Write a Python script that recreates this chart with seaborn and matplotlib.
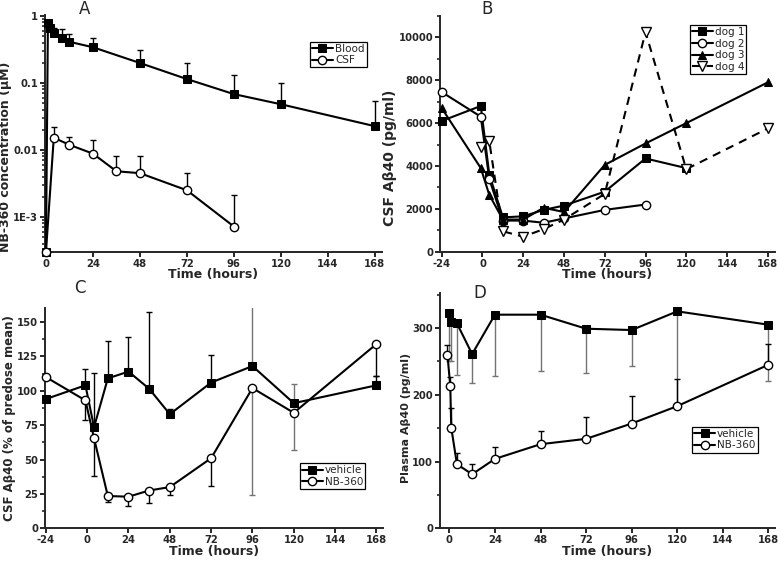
import numpy as np
import pandas as pd
import matplotlib
matplotlib.use("Agg")
import matplotlib.pyplot as plt
from matplotlib.ticker import MultipleLocator, FixedLocator, LogLocator, NullFormatter
import seaborn as sns

# ---------------- data ----------------
# Panel A: NB-360 concentration (uM)
blood_t = [0, 1, 2, 4, 8, 12, 24, 48, 72, 96, 120, 168]
blood_v = [3.0e-4, 0.78, 0.65, 0.56, 0.46, 0.41, 0.34, 0.198, 0.114, 0.068, 0.048, 0.0226]
blood_up = [np.nan, np.nan, np.nan, 0.66, 0.63, 0.53, 0.47, 0.31, 0.196, 0.131, 0.098, 0.053]
csf_t = [0, 4, 12, 24, 36, 48, 72, 96]
csf_v = [3.0e-4, 0.0152, 0.0119, 0.0088, 0.0048, 0.0045, 0.0025, 0.00072]
csf_up = [np.nan, 0.0218, 0.0157, 0.0139, 0.0082, 0.0080, 0.0046, 0.0021]

# Panel B: individual dogs, CSF Abeta40 (pg/ml)
dog_t = [-24, -1, 4, 12, 24, 36, 48, 72, 96, 120, 168]
dog1 = [6100, 6800, 3600, 1600, 1650, 1950, 2150, 2800, 4350, 3900, np.nan]
dog2 = [7450, 6300, 3400, 1450, 1450, 1350, 1550, 1950, 2200, np.nan, np.nan]
dog3 = [6700, 3900, 2650, 1500, 1500, 2050, 1850, 4050, 5050, 6000, 7900]
dog4 = [np.nan, 4900, 5150, 950, 700, 1050, 1500, 2700, 10250, 3850, 5750]

# Panel C: CSF Abeta40 (% of predose mean)
c_t = [-24, -1, 4, 12, 24, 36, 48, 72, 96, 120, 168]
c_vehicle = [94, 104, 73.5, 109, 114, 101.5, 83, 106, 118, 91, 104]
c_vehicle_up = [np.nan, 116, 113, 136, 139, 157, 87, 126, 163, 105, 111]
c_nb = [110, 93, 65.5, 23.5, 23, 27.5, 30, 51, 102, 84, 134]
c_nb_low = [np.nan, 79, 38, 19, 16.5, 18.5, 24.5, 31, 24, 57, 111]

# Panel D: Plasma Abeta40 (pg/ml)
d_veh_t = [0, 1, 4, 12, 24, 48, 72, 96, 120, 168]
d_vehicle = [322, 309, 307, 261, 320, 320, 299, 297, 325, 305]
d_vehicle_low = [250, 250, 230, 217, 228, 235, 233, 243, 188, 221]
d_nb_t = [-1, 0.5, 1, 4, 12, 24, 48, 72, 96, 120, 168]
d_nb = [260, 213, 151, 96, 81, 104, 126, 134, 157, 183, 245]
d_nb_up = [274, 226, 180, 113, 96, 122, 146, 166, 198, 223, 276]

x_ticks_pos = [0, 24, 48, 72, 96, 120, 144, 168]
x_ticks_full = [-24, 0, 24, 48, 72, 96, 120, 144, 168]

# ---------------- style ----------------
sns.set_theme(style="ticks")
plt.rcParams["font.family"] = ["DejaVu Sans"]
plt.rcParams["font.weight"] = "bold"
plt.rcParams["axes.labelweight"] = "bold"
plt.rcParams["axes.linewidth"] = 1.4
plt.rcParams["xtick.major.width"] = 1.4
plt.rcParams["ytick.major.width"] = 1.4
plt.rcParams["xtick.minor.width"] = 1.2
plt.rcParams["ytick.minor.width"] = 1.2
plt.rcParams["xtick.major.size"] = 3.5
plt.rcParams["ytick.major.size"] = 3.5
plt.rcParams["ytick.minor.size"] = 2.2
plt.rcParams["xtick.labelsize"] = 7.2
plt.rcParams["ytick.labelsize"] = 7.2
plt.rcParams["axes.labelsize"] = 8.5
plt.rcParams["xtick.major.pad"] = 1.5
plt.rcParams["ytick.major.pad"] = 1.5

fig = plt.figure(figsize=(7.78, 5.63), dpi=100)
axA = fig.add_axes([0.0578, 0.5524, 0.4328, 0.421])
axB = fig.add_axes([0.5656, 0.553, 0.4300, 0.4186])
axC = fig.add_axes([0.0578, 0.0616, 0.4349, 0.3908])
axD = fig.add_axes([0.5656, 0.0616, 0.4306, 0.4174])

LW = 1.5
MS = 5.5
filled_sq = dict(marker="s", markersize=MS, markerfacecolor="black", markeredgecolor="black")
open_ci = dict(marker="o", markersize=MS + 0.5, markerfacecolor="white", markeredgecolor="black", markeredgewidth=1.0)


def line(ax, t, v, label, style, ls="-", dashes=None):
    df = pd.DataFrame({"t": t, "v": v}).dropna()
    sns.lineplot(data=df, x="t", y="v", ax=ax, color="black", linewidth=LW,
                 label=label, sort=False, estimator=None, zorder=3, **style)
    ln = ax.get_lines()[-1]
    ln.set_linestyle(ls)
    if dashes is not None:
        ln.set_dashes(dashes)
    ln.set_clip_on(False)


def errs(ax, t, v, up=None, low=None, color="black"):
    t = np.asarray(t, float)
    v = np.asarray(v, float)
    if up is not None:
        up = np.asarray(up, float)
        m = ~np.isnan(up)
        ax.errorbar(t[m], v[m], yerr=[np.zeros(m.sum()), up[m] - v[m]], fmt="none",
                    ecolor=color, elinewidth=1.0, capsize=2.5, capthick=1.0, zorder=2)
    if low is not None:
        low = np.asarray(low, float)
        m = ~np.isnan(low)
        ax.errorbar(t[m], v[m], yerr=[v[m] - low[m], np.zeros(m.sum())], fmt="none",
                    ecolor=color, elinewidth=1.0, capsize=2.5, capthick=1.0, zorder=2)


def style_axes(ax, xt, xlim, ylabel, ylabelsize, ypos=0.5):
    sns.despine(ax=ax)
    ax.set_xlim(*xlim)
    ax.set_xticks(xt)
    ax.set_xticklabels([str(x) for x in xt])
    ax.set_xlabel("Time (hours)", labelpad=-0.5, fontsize=9)
    ax.set_ylabel(ylabel, labelpad=1, fontsize=ylabelsize)
    ax.yaxis.label.set_y(ypos)
    ax.grid(False)
    for lab in ax.get_xticklabels() + ax.get_yticklabels():
        lab.set_fontweight("bold")


def legend(ax, anchor, handlelength=2.0):
    leg = ax.legend(loc="upper right", bbox_to_anchor=anchor, frameon=True, fancybox=False,
                    framealpha=1, edgecolor="black", fontsize=7.5, handlelength=handlelength,
                    handletextpad=0.2, labelspacing=0.15, borderpad=0.2, borderaxespad=0)
    leg.get_frame().set_linewidth(0.9)
    for txt in leg.get_texts():
        txt.set_fontweight("normal")
    return leg


def letter(s, xpx, ypx):
    fig.text(xpx / 778, 1 - ypx / 563, s, fontsize=12, fontweight="normal",
             ha="center", va="center", family="DejaVu Sans")


# ---------- Panel A ----------
errs(axA, blood_t, blood_v, up=blood_up)
errs(axA, csf_t, csf_v, up=csf_up)
line(axA, blood_t, blood_v, "Blood", filled_sq)
line(axA, csf_t, csf_v, "CSF", open_ci)
axA.set_yscale("log")
axA.set_ylim(3.0e-4, 1.03)
axA.yaxis.set_major_locator(FixedLocator([1e-3, 1e-2, 1e-1, 1]))
axA.set_yticklabels(["1E-3", "0.01", "0.1", "1"])
axA.yaxis.set_minor_locator(LogLocator(base=10, subs=np.arange(2, 10)))
axA.yaxis.set_minor_formatter(NullFormatter())
style_axes(axA, x_ticks_pos, (-0.5, 171.5), "NB-360 concentration (\u00b5M)", 9, ypos=0.40)
legend(axA, (0.955, 0.887))
letter("A", 85, 9)

# ---------- Panel B ----------
line(axB, dog_t, dog1, "dog 1", filled_sq)
line(axB, dog_t, dog2, "dog 2", open_ci)
line(axB, dog_t, dog3, "dog 3", dict(marker="^", markersize=MS + 0.5, markerfacecolor="black",
                                      markeredgecolor="black"))
line(axB, dog_t, dog4, "dog 4", dict(marker="v", markersize=MS + 1, markerfacecolor="white",
                                      markeredgecolor="black", markeredgewidth=1.0),
     ls="--", dashes=(4, 3))
axB.set_ylim(0, 11000)
axB.yaxis.set_major_locator(MultipleLocator(2000))
axB.yaxis.set_minor_locator(MultipleLocator(1000))
style_axes(axB, x_ticks_full, (-25, 172), "CSF A\u03b240 (pg/ml)", 10, ypos=0.40)
legend(axB, (0.916, 0.962))
letter("B", 487, 9)

# ---------- Panel C ----------
errs(axC, c_t[:8] + c_t[10:], c_vehicle[:8] + c_vehicle[10:], up=c_vehicle_up[:8] + c_vehicle_up[10:])
errs(axC, c_t[8:10], c_vehicle[8:10], up=c_vehicle_up[8:10], color="0.45")
errs(axC, c_t[:8] + c_t[10:], c_nb[:8] + c_nb[10:], low=c_nb_low[:8] + c_nb_low[10:])
errs(axC, c_t[8:10], c_nb[8:10], low=c_nb_low[8:10], color="0.45")
line(axC, c_t, c_vehicle, "vehicle", filled_sq)
line(axC, c_t, c_nb, "NB-360", open_ci)
axC.set_ylim(0, 160)
axC.yaxis.set_major_locator(MultipleLocator(25))
axC.yaxis.set_minor_locator(MultipleLocator(12.5))
style_axes(axC, x_ticks_full, (-24.5, 172), "CSF A\u03b240 (% of predose mean)", 8.5)
legend(axC, (0.946, 0.295))
letter("C", 80, 288)

# ---------- Panel D ----------
errs(axD, d_veh_t, d_vehicle, low=d_vehicle_low, color="0.45")
errs(axD, d_nb_t, d_nb, up=d_nb_up)
line(axD, d_veh_t, d_vehicle, "vehicle", filled_sq)
line(axD, d_nb_t, d_nb, "NB-360", open_ci)
axD.set_ylim(0, 352)
axD.yaxis.set_major_locator(MultipleLocator(100))
axD.yaxis.set_minor_locator(MultipleLocator(50))
style_axes(axD, x_ticks_pos, (-4.9, 171.5), "Plasma A\u03b240 (pg/ml)", 8, ypos=0.47)
legend(axD, (0.948, 0.432))
letter("D", 480, 293)

fig.savefig("out.png", dpi=100)
